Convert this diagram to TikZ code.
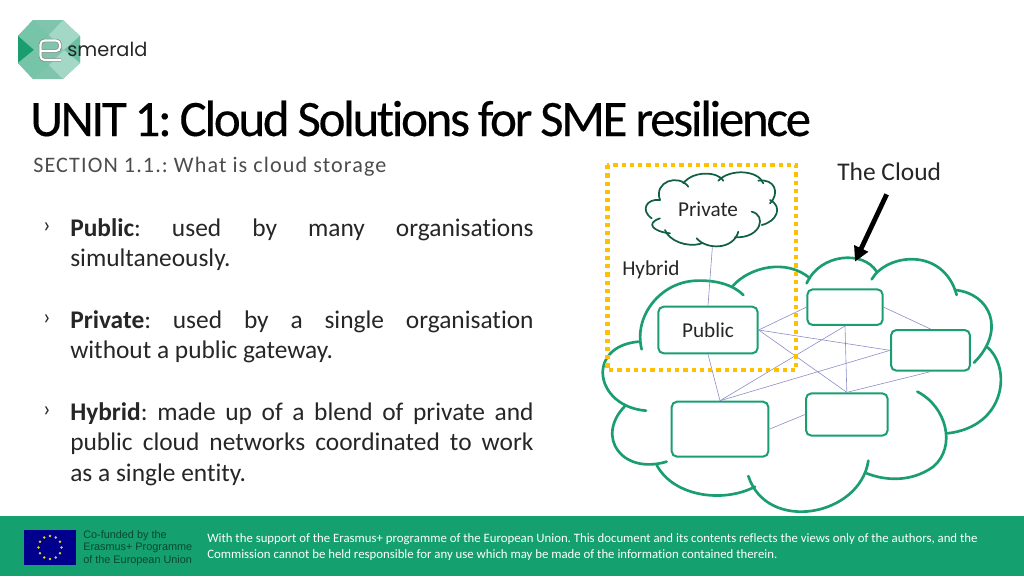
\documentclass[tikz,border=0pt]{standalone}
\usepackage{fontspec}
\setmainfont[Ligatures=NoCommon]{Carlito}
\newfontfamily\titlefont[Ligatures=NoCommon,LetterSpace=-4.6,WordSpace=0.85,FakeBold=0.25]{Carlito}
\newfontfamily\sectionfont[Ligatures=NoCommon,LetterSpace=5]{Carlito}
\newfontfamily\logofont{Poppins}
\newfontfamily\eufont{Liberation Sans}
\usetikzlibrary{arrows.meta}
\definecolor{emerald}{HTML}{1A9E70}
\definecolor{bandgreen}{HTML}{14A06F}
\definecolor{linkblue}{HTML}{8C8CC8}
\definecolor{hybridgold}{HTML}{FFC000}
\definecolor{bodygrey}{HTML}{262626}
\tikzset{
    cloudline/.style={emerald,line width=2pt,line cap=round},
    smallcloud/.style={emerald!60!black,line width=1.3pt,line cap=round},
    netbox/.style={draw=emerald,line width=1.5pt,rounded corners=4pt,inner sep=0pt},
    netlink/.style={linkblue,line width=0.45pt},
    para/.style={anchor=north west,inner sep=0pt,text width=347.5pt,align=justify,text=bodygrey,font=\fontsize{19.05}{23}\selectfont},
    bulletmark/.style={inner sep=0pt,text=bodygrey,font=\fontsize{17}{20}\selectfont},
}
\begin{document}
\frenchspacing
\begin{tikzpicture}[x=0.75pt,y=-0.75pt]
    \useasboundingbox (0,0) rectangle (1024,576);

    \fill[bandgreen] (0,516) rectangle (1024,576);

    \fill[black!6!emerald!55!white] (33,20) -- (63,20) -- (80,36) -- (80,63) -- (63,79) -- (33,79) -- (18,63) -- (18,36) -- cycle;
    \fill[emerald!60!white] (33,20) -- (49,35) -- (34,50) -- (18,36) -- cycle;
    \fill[emerald!40!white] (63,20) -- (80,36) -- (64,50) -- (49,35) -- cycle;
    \fill[emerald] (18,36) -- (34,50) -- (18,63) -- cycle;
    \fill[emerald!65!white] (80,36) -- (64,50) -- (80,63) -- cycle;
    \fill[emerald!60!white] (18,63) -- (34,50) -- (49,65) -- (33,79) -- cycle;
    \fill[emerald!40!white] (80,63) -- (64,50) -- (49,65) -- (63,79) -- cycle;
    \draw[black!50,line width=2.6pt,rounded corners=3pt] (40.5,51) -- (60,51) -- (60,40.5) -- (40.5,40.5) -- (40.5,60) -- (61,60);
    \draw[white,line width=1.6pt,rounded corners=3pt] (40.5,51) -- (60,51) -- (60,40.5) -- (40.5,40.5) -- (40.5,60) -- (61,60);
    \node[inner sep=0pt,anchor=base west,text=black!85,font=\logofont\fontsize{14.5}{17}\selectfont] (logoname) at (67,56) {smerald};

    \node[anchor=base west,inner sep=0pt,text=black,font=\titlefont\fontsize{38.3}{44}\selectfont] (title) at (30,136) {UNIT 1: Cloud Solutions for SME resilience};
    \node[anchor=base west,inner sep=0pt,text=black!70,font=\sectionfont\fontsize{16.6}{19}\selectfont] (section) at (33,172) {SECTION 1.1.: What is cloud storage};

    \node[bulletmark] (bulletone) at (47,228) {›};
    \node[para] (publictext) at (70,218) {\textbf{Public}: used by many organisations\linebreak simultaneously.};
    \node[bulletmark] (bullettwo) at (47,320) {›};
    \node[para] (privatetext) at (70,310) {\textbf{Private}: used by a single organisation\linebreak without a public gateway.};
    \node[bulletmark] (bulletthree) at (47,412) {›};
    \node[para] (hybridtext) at (70,402) {\textbf{Hybrid}: made up of a blend of private and\linebreak public cloud networks coordinated to work\linebreak as a single entity.};

    \begin{scope}[shift={(590,150)},x=0.25pt,y=-0.25pt]
        \draw[cloudline] (155,598) .. controls (130,500) and (210,395) .. (320,392) .. controls (380,390) and (430,405) .. (460,435);
        \draw[cloudline] (428,408) .. controls (480,350) and (590,325) .. (660,385);
        \draw[cloudline] (650,400) .. controls (690,310) and (820,300) .. (860,365);
        \draw[cloudline] (845,388) .. controls (890,310) and (1060,290) .. (1100,435);
        \draw[cloudline] (1095,420) .. controls (1200,430) and (1250,540) .. (1152,638);
        \draw[cloudline] (1190,590) .. controls (1265,650) and (1250,830) .. (1072,850);
        \draw[cloudline] (982,725) .. controls (1070,770) and (1100,890) .. (1030,950) .. controls (960,1000) and (880,990) .. (830,970);
        \draw[cloudline] (835,932) .. controls (810,1100) and (530,1150) .. (475,978);
        \draw[cloudline] (495,1010) .. controls (400,1060) and (250,1040) .. (200,945);
        \draw[cloudline] (230,935) .. controls (95,975) and (15,860) .. (105,768);
        \draw[cloudline] (168,782) .. controls (15,770) and (-15,590) .. (145,575);

        \draw[smallcloud] (210,150) .. controls (190,95) and (265,70) .. (295,110);
        \draw[smallcloud] (280,100) .. controls (310,60) and (385,65) .. (400,92);
        \draw[smallcloud] (385,92) .. controls (420,55) and (505,60) .. (520,100);
        \draw[smallcloud] (505,92) .. controls (555,85) and (570,130) .. (540,160);
        \draw[smallcloud] (540,150) .. controls (580,170) and (560,215) .. (515,225);
        \draw[smallcloud] (485,185) .. controls (530,195) and (515,265) .. (435,262);
        \draw[smallcloud] (445,245) .. controls (430,300) and (350,300) .. (320,265);
        \draw[smallcloud] (335,280) .. controls (290,295) and (235,270) .. (225,240);
        \draw[smallcloud] (240,250) .. controls (190,245) and (165,220) .. (210,205);
        \draw[smallcloud] (185,205) .. controls (150,180) and (170,145) .. (210,150);

        \node[inner sep=0pt,font=\fontsize{15.9}{19}\selectfont,text=black!85] (privatelabel) at (354,178) {Private};
        \coordinate (privatefoot) at (367,292);
        \node[netbox,minimum width=74.5pt,minimum height=35pt,font=\fontsize{15.9}{19}\selectfont,text=black!85] (publicbox) at (354,540) {Public};
        \node[netbox,minimum width=56.5pt,minimum height=26.7pt] (topbox) at (765,471.5) {};
        \node[netbox,minimum width=59.2pt,minimum height=30.5pt] (rightbox) at (1021.5,601) {};
        \node[netbox,minimum width=61.2pt,minimum height=31.7pt] (midbox) at (770.5,793.5) {};
        \node[netbox,minimum width=72.5pt,minimum height=41.2pt] (lowbox) at (390,837.5) {};

        \draw[netlink] (privatefoot) -- (publicbox.north);
        \draw[netlink] (publicbox.east) -- (topbox.west);
        \draw[netlink] (publicbox.east) -- (rightbox.west);
        \draw[netlink] (publicbox.east) -- (midbox.north);
        \draw[netlink] (publicbox.south) -- (lowbox.north);
        \draw[netlink] (lowbox.north) -- (topbox.south);
        \draw[netlink] (lowbox.north) -- (rightbox.west);
        \draw[netlink] (lowbox.east) -- (midbox.west);
        \draw[netlink] (topbox.south) -- (midbox.north);
        \draw[netlink] (topbox.east) -- (rightbox.north);
        \draw[netlink] (midbox.north) -- (rightbox.south);

        \node[anchor=base west,inner sep=0pt,font=\fontsize{15.9}{19}\selectfont,text=black!85] (hybridlabel) at (96,377) {Hybrid};
        \node[anchor=base west,inner sep=0pt,font=\fontsize{19.1}{23}\selectfont,text=black!85] (cloudlabel) at (741,90) {The Cloud};
        \coordinate (arrowstart) at (890,133);
        \coordinate (arrowtip) at (795,335);
        \draw[black,line width=3.6pt,-{Triangle[length=11pt,width=11pt]}] (arrowstart) -- (arrowtip);

        \draw[hybridgold,line width=3.4pt,dash pattern=on 3.2pt off 3pt] (52,45) rectangle (618,660);
    \end{scope}

    \fill[blue!55!black] (24,530) rectangle (76,565);
    \foreach \a in {0,30,...,330}
        \fill[yellow!85!black] ({50+11.5*cos(\a)},{547.5+11.5*sin(\a)}) circle (1pt);
    \node[anchor=west,inner sep=0pt,align=left,text=black!55!bandgreen,font=\eufont\fontsize{8.15}{9.6}\selectfont] (euname) at (83,548) {Co-funded by the\\Erasmus+ Programme\\of the European Union};
    \node[anchor=west,inner sep=0pt,align=left,text=white,font=\fontsize{9.6}{12.3}\selectfont] (support) at (207,547) {With the support of the Erasmus+ programme of the European Union. This document and its contents reflects the views only of the authors, and the\\Commission cannot be held responsible for any use which may be made of the information contained therein.};
\end{tikzpicture}
\end{document}
